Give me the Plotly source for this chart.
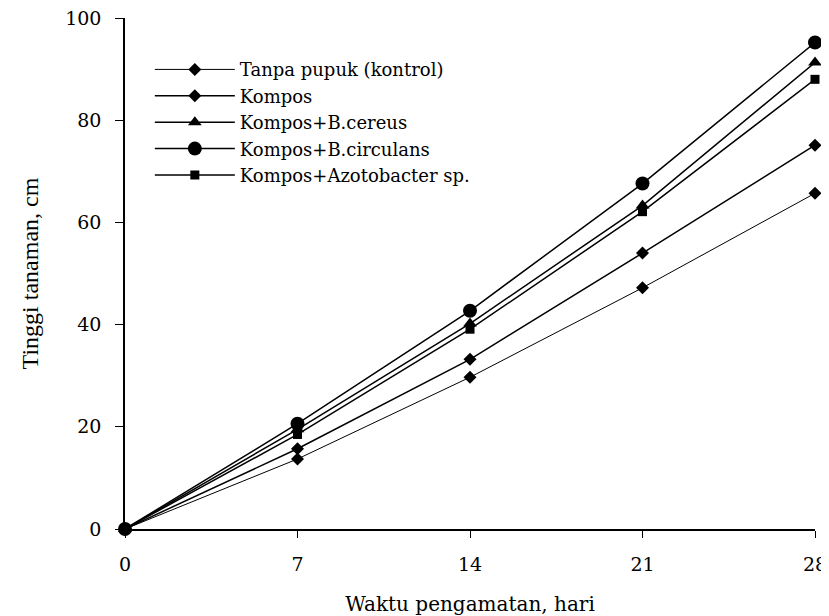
import plotly.graph_objects as go

days = [0, 7, 14, 21, 28]
series_names = ["Tanpa pupuk (kontrol)", "Kompos", "Kompos+B.cereus",
                "Kompos+B.circulans", "Kompos+Azotobacter sp."]
kontrol = [0, 13.7, 29.7, 47.2, 65.7]
kompos = [0, 15.7, 33.2, 54.0, 75.1]
cereus = [0, 19.5, 40.2, 63.3, 91.3]
circulans = [0, 20.6, 42.7, 67.6, 95.2]
azotobacter = [0, 18.5, 39.1, 62.1, 88.0]
x_ticks = [0, 7, 14, 21, 28]
y_ticks = [0, 20, 40, 60, 80, 100]

values = [kontrol, kompos, cereus, circulans, azotobacter]
symbols = ["diamond", "diamond", "triangle-up", "circle", "square"]
sizes = [10, 10, 12, 14, 9]
widths = [1, 1.5, 1.5, 1.5, 1.5]

fig = go.Figure()
for name, vals, sym, sz, w in zip(series_names, values, symbols, sizes, widths):
    fig.add_trace(go.Scatter(
        x=days, y=vals, name=name, mode="lines+markers",
        line=dict(color="black", width=w),
        marker=dict(symbol=sym, size=sz, color="black"),
        cliponaxis=False,
    ))

wide = "DejaVu Serif, serif"
narrow = "Liberation Serif, Times New Roman, serif"
fig.update_layout(
    width=821, height=608,
    margin=dict(l=117, r=14, t=10, b=87, autoexpand=False),
    plot_bgcolor="white", paper_bgcolor="white",
    font=dict(family=wide, color="black", size=18),
    showlegend=True,
    legend=dict(x=0.036, y=0.935, xanchor="left", yanchor="top",
                bgcolor="rgba(0,0,0,0)", itemwidth=80,
                font=dict(family=wide, size=18, color="black")),
    xaxis=dict(range=[0, 28], tickvals=x_ticks, showgrid=False, zeroline=False,
               showline=True, linecolor="black", linewidth=1.5,
               ticks="outside", ticklen=7, tickcolor="black", tickwidth=1.2,
               ticklabelstandoff=10, automargin=False, ticklabeloverflow="allow",
               tickfont=dict(family=wide, size=19),
               title=dict(text="Waktu pengamatan, hari", font=dict(family=wide, size=20),
                          standoff=29)),
    yaxis=dict(range=[0, 100], tickvals=y_ticks, showgrid=False, zeroline=False,
               showline=True, linecolor="black", linewidth=1.5,
               ticks="outside", ticklen=8, tickcolor="black", tickwidth=1.2,
               ticklabelstandoff=10, automargin=False, ticklabeloverflow="allow",
               tickfont=dict(family=wide, size=19),
               title=dict(text="Tinggi tanaman, cm", font=dict(family=narrow, size=24),
                          standoff=20)),
)

fig.write_html("out.html")
